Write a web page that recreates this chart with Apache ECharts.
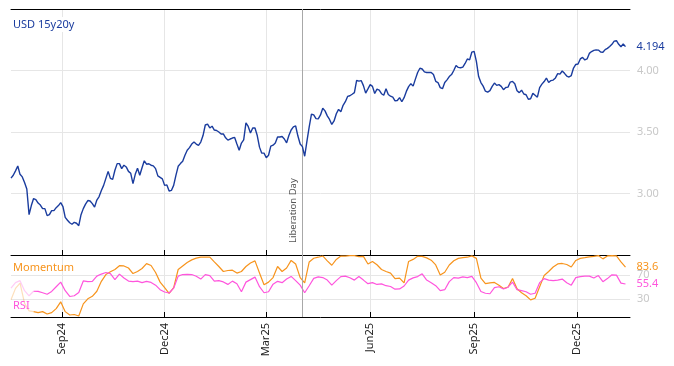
<!DOCTYPE html>
<html><head><meta charset="utf-8">
<script src="https://cdn.jsdelivr.net/npm/echarts@6/dist/echarts.min.js"></script>
<style>html,body{margin:0;padding:0;background:#fff}#c{width:674px;height:366px}</style>
</head><body><div id="c"></div>
<script>
// ---- data ----
const startDate = '2024-07-18';
const usdStepDays = 2;   // USD 15y20y sampled every 2 days
const indStepDays = 4;   // Momentum / RSI sampled every 4 days
const usd = [
3.125,3.148,3.184,3.224,3.156,3.135,3.090,3.037,2.828,2.902,
2.959,2.951,2.922,2.906,2.877,2.877,2.820,2.828,2.861,2.861,
2.885,2.902,2.926,2.893,2.806,2.783,2.762,2.750,2.766,2.758,
2.738,2.828,2.877,2.914,2.943,2.939,2.918,2.889,2.947,2.975,
3.025,3.066,3.123,3.180,3.123,3.115,3.189,3.243,3.243,3.202,
3.230,3.216,3.180,3.164,3.080,3.156,3.205,3.148,3.209,3.266,
3.238,3.242,3.230,3.225,3.202,3.143,3.131,3.119,3.066,3.070,
3.020,3.025,3.066,3.148,3.221,3.243,3.262,3.311,3.352,3.373,
3.402,3.418,3.402,3.391,3.418,3.471,3.557,3.564,3.533,3.547,
3.516,3.512,3.500,3.484,3.484,3.453,3.434,3.443,3.451,3.456,
3.402,3.352,3.410,3.436,3.574,3.545,3.492,3.533,3.533,3.471,
3.377,3.328,3.328,3.291,3.311,3.385,3.393,3.410,3.459,3.459,
3.463,3.443,3.412,3.471,3.516,3.541,3.549,3.467,3.402,3.381,
3.303,3.426,3.541,3.646,3.639,3.609,3.607,3.639,3.693,3.672,
3.631,3.602,3.561,3.590,3.648,3.684,3.664,3.717,3.746,3.789,
3.795,3.807,3.820,3.920,3.914,3.918,3.877,3.816,3.850,3.885,
3.871,3.813,3.848,3.840,3.811,3.799,3.852,3.805,3.791,3.783,
3.754,3.756,3.779,3.746,3.779,3.830,3.869,3.893,3.873,3.930,
3.984,4.018,4.012,3.989,3.984,3.985,3.984,3.967,3.912,3.902,
3.861,3.852,3.902,3.924,3.951,3.967,4.000,4.041,4.025,4.022,
4.027,4.057,4.094,4.086,4.150,4.156,4.074,3.951,3.902,3.873,
3.832,3.824,3.836,3.871,3.898,3.879,3.885,3.871,3.844,3.862,
3.865,3.906,3.911,3.893,3.836,3.820,3.840,3.809,3.803,3.766,
3.770,3.814,3.799,3.783,3.861,3.889,3.910,3.939,3.902,3.918,
3.922,3.940,3.975,3.970,3.996,3.977,3.955,3.947,3.959,4.020,
4.049,4.053,4.094,4.107,4.086,4.094,4.139,4.154,4.164,4.168,
4.166,4.150,4.148,4.170,4.180,4.195,4.213,4.239,4.242,4.213,
4.193,4.216,4.194];
const momentum = [
28.8,48.0,57.0,22.9,10.2,9.0,7.3,9.0,5.1,7.3,
14.1,25.4,9.0,3.4,4.2,1.7,22.0,30.5,34.7,43.2,
59.8,71.2,75.8,79.7,86.1,85.6,82.2,72.9,76.3,81.4,
89.5,86.4,74.6,58.5,49.2,39.8,49.2,79.7,85.6,91.5,
95.8,98.8,100.5,100.3,100.5,92.4,84.7,76.3,78.0,78.5,
73.7,76.3,84.7,90.7,94.1,73.7,54.2,58.5,66.1,84.7,
76.3,82.2,94.9,89.0,66.1,57.1,92.4,98.6,100.3,102.4,
94.1,86.8,96.6,102.2,102.2,102.9,102.9,101.4,101.7,89.0,
93.2,87.6,79.7,76.3,73.7,64.4,65.3,57.1,93.2,96.6,
101.7,101.7,99.2,95.3,87.3,70.3,75.1,87.3,94.4,98.3,
99.5,100.3,102.5,98.3,65.3,55.9,57.1,58.0,53.4,47.8,
50.0,64.4,47.5,40.7,35.6,28.8,31.4,50.8,69.5,76.3,
83.9,89.0,89.8,88.1,83.9,94.9,98.3,99.5,100.8,101.7,
103.0,97.5,102.5,103.0,102.5,92.4,83.6];
const rsi = [
48.3,57.6,61.0,44.1,35.6,43.2,42.9,40.7,38.1,42.9,
50.8,58.5,44.1,34.4,35.6,41.0,60.5,59.3,59.8,68.6,
72.0,74.6,72.9,62.7,72.0,65.3,60.2,59.3,60.2,57.6,
59.7,58.0,53.4,45.8,41.9,40.3,48.3,68.6,71.2,71.5,
71.2,68.3,63.6,71.2,69.5,60.2,61.0,58.8,54.7,60.2,
55.9,42.4,58.5,62.7,66.9,50.8,40.7,42.4,55.1,59.8,
57.6,63.6,68.1,61.0,53.4,40.7,52.5,64.7,67.3,66.1,
61.9,53.4,61.0,67.8,68.6,65.8,61.9,67.8,61.9,55.9,
57.6,54.6,55.6,52.5,51.2,46.6,47.1,52.0,61.9,65.6,
67.8,72.4,61.9,57.6,52.5,44.1,45.8,59.3,66.1,65.3,
67.3,66.1,68.1,57.6,42.7,39.8,39.0,49.2,50.8,47.0,
50.0,58.5,45.8,44.1,42.4,38.1,39.8,57.6,64.4,61.9,
61.0,61.9,63.6,57.6,53.4,66.1,67.8,68.6,68.6,65.3,
69.5,59.3,64.4,70.8,70.3,56.8,55.4];
const tickDates = ['2024-09-01','2024-12-01','2025-03-01','2025-06-01','2025-09-01','2025-12-01'];
const axisMin = '2024-07-18', axisMax = '2026-01-17';
const eventDate = '2025-04-02', eventLabel = 'Liberation Day';
const mainTicks = [3.0, 3.5, 4.0];
const indTicks = [30, 70];
const warmup = 5;
const seriesNames = ['USD 15y20y', 'Momentum', 'RSI'];

// ---- build ----
const MONTHS = ['Jan','Feb','Mar','Apr','May','Jun','Jul','Aug','Sep','Oct','Nov','Dec'];
const DAY = 86400000;
function ts(s){ return new Date(s + 'T00:00:00Z').getTime(); }
const t0 = ts(startDate);
const usdData = usd.map((v, i) => [t0 + i * usdStepDays * DAY, v]);
const indPair = arr => arr.map((v, i) => [t0 + i * indStepDays * DAY, v]);
const tickTs = tickDates.map(ts);
const FONT = 'Noto Sans';
const BLUE = '#1a3c9e', ORANGE = '#f7941d', PINK = '#ff55dd';

const xCommon = { type: 'value', min: ts(axisMin), max: ts(axisMax), scale: true };
const chart = echarts.init(document.getElementById('c'), null, { renderer: 'canvas' });

const option = {
  animation: false,
  textStyle: { fontFamily: FONT },
  title: [
    { text: seriesNames[0], left: 10, top: 17, padding: [2, 3], backgroundColor: '#fff',
      textStyle: { color: BLUE, fontSize: 11, fontWeight: 'normal', fontFamily: FONT } },
    { text: seriesNames[1], left: 10, top: 260, padding: [2, 3],
      textStyle: { color: ORANGE, fontSize: 11, fontWeight: 'normal', fontFamily: FONT } },
    { text: seriesNames[2], left: 10, top: 298, padding: [2, 3],
      textStyle: { color: PINK, fontSize: 11, fontWeight: 'normal', fontFamily: FONT } }
  ],
  grid: [
    { left: 11, right: 44, top: 9, height: 246 },
    { left: 11, right: 44, top: 255, height: 62 }
  ],
  xAxis: [
    Object.assign({}, xCommon, { gridIndex: 0, position: 'bottom',
      axisLine: { lineStyle: { color: '#000', width: 1 } },
      axisTick: { inside: true, length: 5, customValues: tickTs, lineStyle: { color: '#000' } },
      axisLabel: { show: false, customValues: tickTs },
      splitLine: { show: true, lineStyle: { color: '#e6e6e6' } } }),
    Object.assign({}, xCommon, { gridIndex: 0, position: 'top',
      axisLine: { lineStyle: { color: '#000', width: 1 } },
      axisTick: { show: false }, axisLabel: { show: false }, splitLine: { show: false } }),
    Object.assign({}, xCommon, { gridIndex: 1, position: 'bottom',
      axisLine: { lineStyle: { color: '#000', width: 1 } },
      axisTick: { inside: true, length: 5, customValues: tickTs, lineStyle: { color: '#000' } },
      axisLabel: { customValues: tickTs, rotate: 90, margin: 6, color: '#222', fontSize: 11, fontFamily: FONT,
        formatter: v => { const d = new Date(v); return MONTHS[d.getUTCMonth()] + String(d.getUTCFullYear()).slice(2); } },
      splitLine: { show: true, lineStyle: { color: '#e6e6e6' } } })
  ],
  yAxis: [
    { type: 'value', gridIndex: 0, position: 'right', min: 2.5, max: 4.5,
      axisLine: { show: false },
      axisTick: { show: false, customValues: mainTicks },
      axisLabel: { customValues: mainTicks, formatter: v => v.toFixed(2), color: '#c8c8c8', fontSize: 11, margin: 7, fontFamily: FONT },
      splitLine: { show: true, lineStyle: { color: '#e6e6e6' } } },
    { type: 'value', gridIndex: 1, position: 'right', min: 0, max: 104,
      axisLine: { show: false },
      axisTick: { show: false, customValues: indTicks },
      axisLabel: { customValues: indTicks, color: '#c8c8c8', fontSize: 11, margin: 7, fontFamily: FONT },
      splitLine: { show: true, lineStyle: { color: '#e6e6e6' } } }
  ],
  series: [
    { name: seriesNames[0], type: 'line', xAxisIndex: 0, yAxisIndex: 0, data: usdData,
      showSymbol: false, lineStyle: { color: BLUE, width: 1.4 }, itemStyle: { color: BLUE }, z: 5,
      endLabel: { show: true, distance: 11, color: BLUE, fontSize: 11, fontFamily: FONT,
        formatter: () => usd[usd.length - 1].toFixed(3) },
      markLine: { silent: true, symbol: 'none', animation: false,
        lineStyle: { color: '#a8a8a8', type: 'solid', width: 1 },
        label: { show: true, formatter: eventLabel, position: 'insideStartTop', distance: [12, 4],
          color: '#555', fontSize: 9.5, fontFamily: FONT },
        data: [{ xAxis: ts(eventDate) }] } },
    { name: seriesNames[1] + ' warm-up', type: 'line', xAxisIndex: 2, yAxisIndex: 1,
      data: indPair(momentum).slice(0, warmup + 1), showSymbol: false,
      lineStyle: { color: ORANGE, width: 1.2, opacity: 0.3 } },
    { name: seriesNames[2] + ' warm-up', type: 'line', xAxisIndex: 2, yAxisIndex: 1,
      data: indPair(rsi).slice(0, warmup + 1), showSymbol: false,
      lineStyle: { color: PINK, width: 1.2, opacity: 0.3 } },
    { name: seriesNames[1], type: 'line', xAxisIndex: 2, yAxisIndex: 1,
      data: indPair(momentum).slice(warmup), showSymbol: false, z: 4,
      lineStyle: { color: ORANGE, width: 1.2 }, itemStyle: { color: ORANGE },
      endLabel: { show: true, distance: 11, color: ORANGE, fontSize: 11, fontFamily: FONT,
        formatter: () => momentum[momentum.length - 1].toFixed(1) },
      markLine: { silent: true, symbol: 'none', animation: false,
        lineStyle: { color: '#a8a8a8', type: 'solid', width: 1 }, label: { show: false },
        data: [{ xAxis: ts(eventDate) }] } },
    { name: seriesNames[2], type: 'line', xAxisIndex: 2, yAxisIndex: 1,
      data: indPair(rsi).slice(warmup), showSymbol: false, z: 4,
      lineStyle: { color: PINK, width: 1.2 }, itemStyle: { color: PINK },
      endLabel: { show: true, distance: 11, color: PINK, fontSize: 11, fontFamily: FONT,
        formatter: () => rsi[rsi.length - 1].toFixed(1) } }
  ]
};
chart.setOption(option);
</script>
</body></html>
